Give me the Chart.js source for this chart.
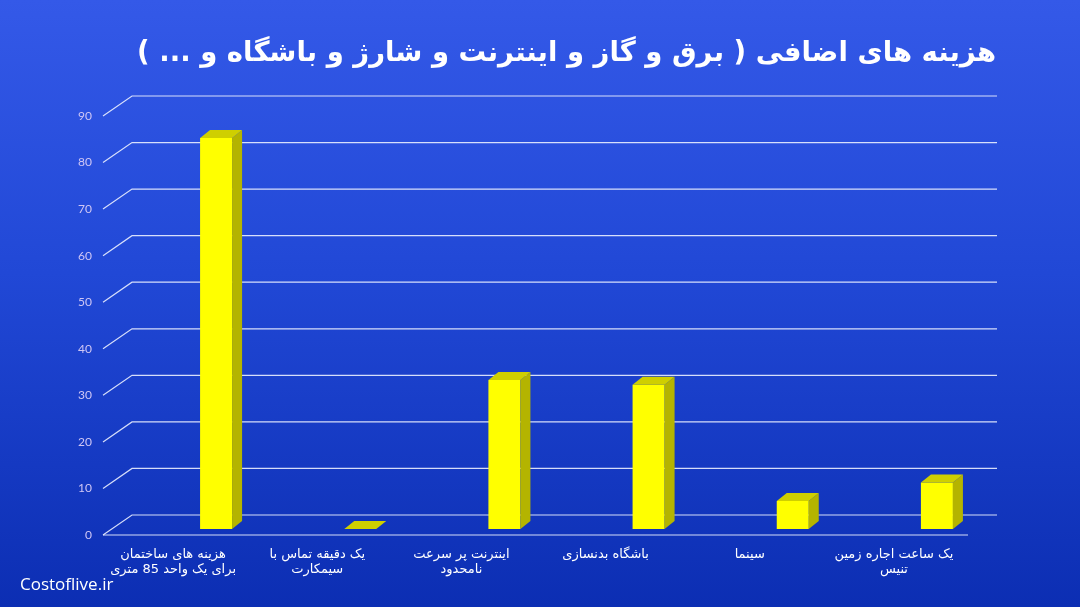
<!DOCTYPE html>
<html lang="fa">
<head>
<meta charset="utf-8">
<title>هزینه های اضافی</title>
<script src="https://cdn.jsdelivr.net/npm/chart.js@4/dist/chart.umd.min.js"></script>
<style>
  html, body { margin: 0; padding: 0; }
  body {
    width: 1080px;
    height: 607px;
    overflow: hidden;
    background: linear-gradient(180deg, #3459e8 0%, #2148d6 45%, #0c2eb3 100%);
  }
  canvas { display: block; }
</style>
</head>
<body>
<canvas id="chart" width="1080" height="607" dir="rtl"></canvas>
<script>
const titleText = "هزینه های اضافی ( برق و گاز و اینترنت و شارژ و باشگاه و ... )";
const categories = [
  ["هزینه های ساختمان", "برای یک واحد 85 متری"],
  ["یک دقیقه تماس با", "سیمکارت"],
  ["اینترنت پر سرعت", "نامحدود"],
  ["باشگاه بدنسازی"],
  ["سینما"],
  ["یک ساعت اجاره زمین", "تنیس"]
];
const values = [84, 0, 32, 31, 6, 10];
const yTicks = [0, 10, 20, 30, 40, 50, 60, 70, 80, 90];

// depth of the floor/back wall and of each bar
const WALL_DX = 29, WALL_DY = -20, FRONT_SHIFT = 6;
const BAR_DX = 10, BAR_DY = -8;

const wallGrid = {
  id: "wallGrid",
  beforeDatasetsDraw(chart) {
    const { ctx, chartArea, scales } = chart;
    const y = scales.y;
    const fl = chartArea.left - 41;
    const fr = chartArea.right - 41;
    ctx.save();
    ctx.strokeStyle = "rgba(235,240,255,0.9)";
    ctx.lineWidth = 1.2;
    yTicks.forEach((v) => {
      const fy = y.getPixelForValue(v) + FRONT_SHIFT;
      ctx.beginPath();
      ctx.moveTo(fl, fy);
      ctx.lineTo(fl + WALL_DX, fy + WALL_DY);
      ctx.lineTo(fr + WALL_DX, fy + WALL_DY);
      ctx.stroke();
    });
    // front edge of the floor
    const fy0 = y.getPixelForValue(0) + FRONT_SHIFT;
    ctx.beginPath();
    ctx.moveTo(fl, fy0);
    ctx.lineTo(fr, fy0);
    ctx.stroke();
    ctx.restore();
  }
};

const bars3d = {
  id: "bars3d",
  afterDatasetsDraw(chart) {
    const { ctx } = chart;
    const meta = chart.getDatasetMeta(0);
    ctx.save();
    meta.data.forEach((bar) => {
      const { x, y, base, width } = bar.getProps(["x", "y", "base", "width"], true);
      const l = x - width / 2, r = x + width / 2;
      // side
      ctx.fillStyle = "#b4b400";
      ctx.beginPath();
      ctx.moveTo(r, y);
      ctx.lineTo(r + BAR_DX, y + BAR_DY);
      ctx.lineTo(r + BAR_DX, base + BAR_DY);
      ctx.lineTo(r, base);
      ctx.closePath();
      ctx.fill();
      // top
      ctx.fillStyle = "#cfcf00";
      ctx.beginPath();
      ctx.moveTo(l, y);
      ctx.lineTo(l + BAR_DX, y + BAR_DY);
      ctx.lineTo(r + BAR_DX, y + BAR_DY);
      ctx.lineTo(r, y);
      ctx.closePath();
      ctx.fill();
    });
    ctx.restore();
  }
};

// title and site name, drawn as canvas text
const texts = {
  id: "texts",
  afterDraw(chart) {
    const { ctx } = chart;
    ctx.save();
    ctx.direction = "rtl";
    ctx.textAlign = "right";
    ctx.textBaseline = "middle";
    ctx.fillStyle = "#ffffff";
    ctx.font = "bold 27.5px 'DejaVu Sans', sans-serif";
    ctx.fillText(titleText, 996, 54);

    ctx.direction = "ltr";
    ctx.textAlign = "left";
    ctx.font = "17px 'Open Sans', sans-serif";
    ctx.fillText("Costoflive.ir", 20, 585);
    ctx.restore();
  }
};

new Chart(document.getElementById("chart"), {
  type: "bar",
  data: {
    labels: categories,
    datasets: [
      {
        data: values,
        backgroundColor: "#ffff00",
        borderWidth: 0,
        barPercentage: 0.222,
        categoryPercentage: 1
      }
    ]
  },
  options: {
    responsive: false,
    animation: false,
    layout: { padding: { top: 110, left: 0, right: 71, bottom: 0 } },
    scales: {
      x: {
        offset: true,
        afterFit(scale) {
          scale.height = 78;
        },
        grid: { display: false, drawTicks: false },
        border: { display: false },
        ticks: {
          color: "#ffffff",
          font: { family: "'DejaVu Sans', sans-serif", size: 13, lineHeight: 1.15 },
          padding: 18,
          labelOffset: -43,
          maxRotation: 0,
          autoSkip: false
        }
      },
      y: {
        min: 0,
        max: 90,
        afterBuildTicks(scale) {
          scale.ticks = yTicks.map((v) => ({ value: v }));
        },
        afterFit(scale) {
          scale.width = 144;
        },
        grid: { display: false, drawTicks: false },
        border: { display: false },
        ticks: {
          color: "#cfc6f5",
          font: { family: "Lato, sans-serif", size: 12 },
          padding: 52,
          labelOffset: 6
        }
      }
    },
    plugins: {
      legend: { display: false },
      tooltip: { enabled: false },
      title: { display: false }
    }
  },
  plugins: [wallGrid, bars3d, texts]
});
</script>
</body>
</html>
